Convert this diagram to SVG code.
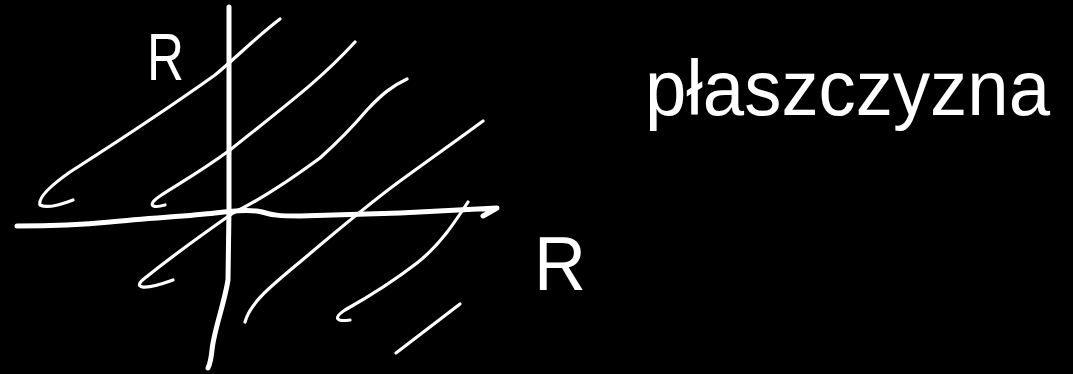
<svg xmlns="http://www.w3.org/2000/svg" width="1073" height="374" viewBox="0 0 1073 374">
<style>
.axis{fill:none;stroke:#fff;stroke-width:5;stroke-linecap:round;stroke-linejoin:round}
.hatch{fill:none;stroke:#fff;stroke-width:3.2;stroke-linecap:round;stroke-linejoin:round}
.lbl{fill:#fff;font-family:"Liberation Sans",Arial,sans-serif}
</style>
<rect width="1073" height="374" fill="#000"/>
<g id="hatching">
<path class="hatch" d="M280,19 C255,38 238,56 215,75 C180,100 120,140 70,172 C50,186 38,198 40,205 C48,209 62,204 73,200"/>
<path class="hatch" d="M355,42 C320,80 290,102 230,150 C200,172 175,186 160,196 C148,204 150,209 165,205"/>
<path class="hatch" d="M407,79 C392,86 382,94 367,110 C350,130 340,140 320,158 C290,180 260,200 233,213 C200,236 165,262 145,278 C133,287 140,292 173,280"/>
<path class="hatch" d="M483,121 C460,138 440,152 400,181 C370,203 340,228 300,262 C270,287 250,303 245,322"/>
<path class="hatch" d="M468,202 C455,222 440,245 417,263 C395,280 370,296 345,310 C333,318 336,322 350,320"/>
<path class="hatch" d="M460,304 L396,353"/>
</g>
<g id="axes">
<path class="axis" d="M229,7 L229,210 L228,280 C224,305 214,330 212,350 C211,360 210,364 208,368"/>
<path class="axis" d="M17,226 C50,226 80,225 110,222 C150,218 190,216 215,213 C230,211 250,209 262,212 C272,215 278,216 300,216 L400,213 L497,208 L483,216"/>
</g>
<g id="label-R-vertical">
<text class="lbl" x="147" y="80" font-size="66" textLength="37" lengthAdjust="spacingAndGlyphs">R</text>
</g>
<g id="label-R-horizontal">
<text class="lbl" x="534" y="290" font-size="76" textLength="52" lengthAdjust="spacingAndGlyphs">R</text>
</g>
<g id="title">
<text class="lbl" x="645" y="115" font-size="78" textLength="405" lengthAdjust="spacingAndGlyphs">płaszczyzna</text>
</g>
</svg>
